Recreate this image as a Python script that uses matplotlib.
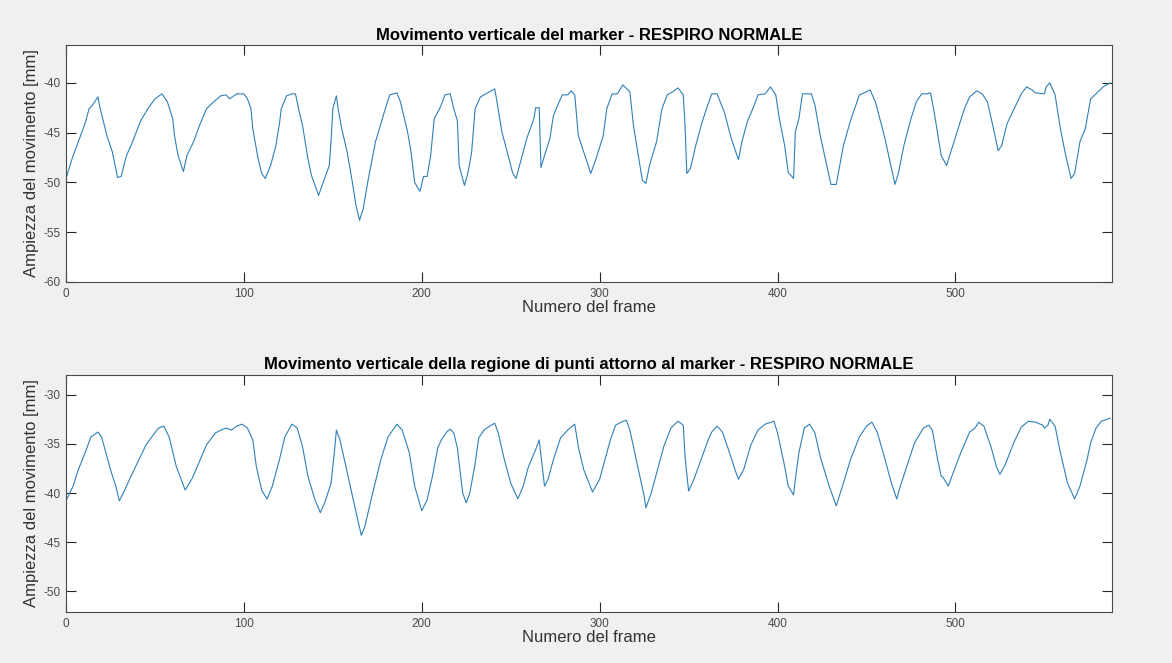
import matplotlib
matplotlib.use("Agg")
import matplotlib.pyplot as plt

plt.rcParams["font.family"] = ["Liberation Sans", "DejaVu Sans"]
plt.rcParams["axes.unicode_minus"] = False

# marker - frames and vertical position [mm]
frame_marker = [0, 4, 8, 11, 13, 15, 18, 19, 23, 26, 28, 29, 31, 34, 37, 42, 46, 50, 54, 57,
                60, 61, 63, 66, 68, 72, 75, 79, 83, 87, 90, 92, 96, 100, 102, 104, 105, 108, 110, 112,
                115, 118, 120, 121, 124, 127, 129, 131, 133, 136, 138, 142, 145, 148, 149, 150, 152, 153, 155, 158,
                161, 163, 165, 167, 170, 174, 179, 182, 186, 188, 192, 194, 196, 199, 201, 203, 205, 207, 210, 211,
                213, 216, 218, 220, 221, 224, 226, 228, 230, 233, 236, 239, 241, 242, 245, 249, 251, 253, 256, 259,
                263, 264, 266, 267, 269, 272, 274, 276, 279, 282, 284, 286, 288, 291, 293, 295, 298, 302, 304, 307,
                310, 313, 317, 319, 322, 324, 326, 328, 332, 335, 338, 341, 344, 347, 348, 349, 351, 354, 357, 360,
                363, 366, 370, 374, 378, 380, 383, 387, 389, 393, 396, 399, 401, 404, 406, 409, 410, 412, 414, 419,
                421, 424, 428, 430, 433, 437, 441, 446, 450, 452, 455, 460, 464, 466, 468, 471, 475, 478, 481, 484,
                486, 488, 492, 495, 498, 502, 505, 508, 512, 515, 518, 521, 524, 526, 529, 533, 537, 540, 543, 545,
                550, 551, 553, 556, 559, 562, 565, 567, 570, 573, 576, 579, 583, 587]
pos_marker = [-49.6, -47.3, -45.4, -43.9, -42.6, -42.2, -41.4, -42.4, -45.3, -46.9, -48.6, -49.5, -49.4, -47.3, -46.1, -43.8, -42.6, -41.6, -41.1, -41.9,
              -43.6, -45.3, -47.3, -48.9, -47.3, -45.8, -44.3, -42.6, -41.9, -41.3, -41.2, -41.6, -41.1, -41.1, -41.6, -42.6, -44.6, -47.6, -49.1, -49.6,
              -48.3, -46.3, -44.1, -42.6, -41.3, -41.1, -41.1, -42.8, -44.3, -47.6, -49.3, -51.3, -49.8, -48.3, -45.9, -42.6, -41.3, -42.6, -44.6, -46.9,
              -50.0, -52.3, -53.8, -52.7, -49.6, -45.9, -42.9, -41.2, -41.0, -41.9, -44.9, -47.0, -50.0, -50.9, -49.4, -49.4, -47.3, -43.6, -42.6, -42.2,
              -41.2, -41.1, -42.6, -43.8, -48.3, -50.3, -49.0, -47.0, -42.6, -41.4, -41.1, -40.8, -40.6, -41.6, -44.9, -47.6, -49.0, -49.6, -47.6, -45.6,
              -43.6, -42.5, -42.5, -48.5, -47.3, -45.6, -43.3, -42.4, -41.2, -41.2, -40.8, -41.2, -45.3, -46.9, -48.0, -49.1, -47.6, -45.3, -42.6, -41.1,
              -41.1, -40.2, -40.9, -44.3, -47.6, -49.8, -50.1, -48.3, -45.9, -42.6, -41.2, -40.9, -40.5, -41.2, -44.3, -49.1, -48.6, -46.3, -44.3, -42.6,
              -41.1, -41.1, -42.9, -45.6, -47.7, -45.9, -43.9, -42.2, -41.2, -41.1, -40.4, -41.2, -43.6, -46.3, -49.0, -49.6, -44.9, -43.6, -41.1, -41.1,
              -42.2, -45.3, -48.6, -50.2, -50.2, -46.3, -43.8, -41.2, -40.9, -40.7, -41.9, -45.3, -48.6, -50.2, -49.0, -46.3, -43.6, -41.9, -41.1, -41.1,
              -41.0, -42.9, -47.3, -48.3, -46.6, -44.3, -42.6, -41.4, -40.8, -41.1, -41.9, -44.3, -46.8, -46.3, -44.1, -42.6, -41.1, -40.4, -40.7, -41.0,
              -41.1, -40.4, -40.0, -41.2, -44.6, -47.3, -49.6, -49.1, -45.9, -44.6, -41.6, -41.1, -40.4, -40.0]

# region of points around the marker
frame_region = [0, 4, 7, 11, 14, 18, 20, 25, 28, 30, 33, 36, 41, 45, 49, 52, 55, 58, 62, 67,
                71, 75, 79, 84, 87, 90, 93, 96, 99, 102, 105, 107, 110, 113, 116, 120, 123, 127, 130, 133,
                136, 140, 143, 146, 149, 151, 152, 154, 157, 161, 164, 166, 168, 172, 177, 181, 186, 189, 193, 196,
                200, 203, 206, 209, 211, 214, 216, 218, 220, 223, 225, 227, 230, 232, 235, 239, 241, 243, 246, 250,
                254, 257, 260, 264, 266, 269, 271, 274, 278, 282, 286, 288, 291, 296, 300, 303, 306, 309, 312, 315,
                317, 321, 325, 326, 329, 332, 336, 340, 344, 347, 348, 350, 353, 357, 361, 363, 366, 369, 373, 376,
                378, 381, 385, 389, 393, 398, 400, 404, 406, 409, 410, 412, 415, 418, 421, 424, 429, 433, 437, 441,
                446, 450, 453, 456, 460, 464, 467, 469, 473, 477, 482, 485, 487, 490, 492, 493, 496, 498, 503, 508,
                511, 513, 516, 520, 523, 525, 528, 533, 537, 541, 545, 549, 550, 552, 553, 556, 559, 563, 567, 570,
                574, 576, 579, 582, 587]
pos_region = [-40.8, -39.3, -37.6, -35.8, -34.3, -33.8, -34.3, -37.6, -39.3, -40.8, -39.7, -38.5, -36.6, -35.1, -34.1, -33.4, -33.2, -34.3, -37.3, -39.7,
              -38.5, -36.8, -35.1, -33.9, -33.6, -33.4, -33.6, -33.2, -33.0, -33.4, -34.6, -37.3, -39.7, -40.6, -39.3, -36.6, -34.3, -33.0, -33.4, -35.3,
              -38.3, -40.7, -42.0, -40.7, -39.0, -35.6, -33.6, -34.6, -37.0, -40.3, -42.7, -44.3, -43.4, -40.3, -36.6, -34.3, -33.0, -33.6, -35.9, -39.3,
              -41.8, -40.7, -38.3, -35.4, -34.6, -33.8, -33.5, -33.9, -35.4, -40.0, -41.0, -40.0, -37.0, -34.4, -33.6, -33.1, -32.9, -33.9, -36.3, -39.0,
              -40.6, -39.3, -37.3, -35.6, -34.6, -39.3, -38.6, -36.6, -34.4, -33.6, -33.0, -35.3, -37.6, -39.9, -38.6, -36.6, -34.6, -33.1, -32.8, -32.6,
              -33.6, -37.0, -40.3, -41.5, -40.0, -38.0, -35.3, -33.4, -32.7, -33.1, -36.3, -39.8, -38.6, -36.6, -34.6, -33.8, -33.2, -33.8, -35.9, -37.6,
              -38.6, -37.6, -35.1, -33.6, -33.0, -32.7, -33.9, -37.3, -39.3, -40.2, -38.6, -35.9, -33.4, -33.0, -33.9, -36.3, -39.3, -41.3, -39.0, -36.6,
              -34.3, -33.2, -32.8, -33.8, -36.3, -39.0, -40.6, -39.3, -37.1, -34.9, -33.4, -33.1, -33.6, -36.6, -38.3, -38.4, -39.3, -38.3, -35.9, -33.8,
              -33.4, -32.8, -33.2, -35.3, -37.3, -38.1, -37.1, -34.8, -33.3, -32.7, -32.8, -33.1, -33.4, -33.1, -32.5, -33.2, -35.9, -39.0, -40.6, -39.3,
              -36.6, -34.9, -33.4, -32.7, -32.4]

titles = ["Movimento verticale del marker - RESPIRO NORMALE",
          "Movimento verticale della regione di punti attorno al marker - RESPIRO NORMALE"]
yticks_top = [-60, -55, -50, -45, -40]
yticks_bottom = [-50, -45, -40, -35, -30]
xticks = [0, 100, 200, 300, 400, 500]

fig = plt.figure(figsize=(11.72, 6.63), dpi=100, facecolor="#f0f0f0")
ax1 = fig.add_axes([0.0563, 0.5747, 0.8925, 0.3573])
ax2 = fig.add_axes([0.0563, 0.0769, 0.8925, 0.3575])

panels = [
    (ax1, frame_marker, pos_marker, (-60, -36.2), yticks_top, titles[0]),
    (ax2, frame_region, pos_region, (-52.1, -28.0), yticks_bottom, titles[1]),
]

for ax, fx, fy, ylim, yt, title in panels:
    ax.plot(fx, fy, color="#2f80b8", linewidth=0.8)
    ax.set_xlim(0, 588)
    ax.set_ylim(*ylim)
    ax.set_xticks(xticks)
    ax.set_yticks(yt)
    ax.tick_params(direction="in", length=7, width=0.8, top=True, right=True,
                   labelsize=8.5, colors="#262626", labelcolor="#4a4a4a", pad=4)
    for s in ax.spines.values():
        s.set_color("#4a4a4a")
        s.set_linewidth(0.8)
    ax.set_title(title, fontsize=12, fontweight="bold", pad=4)
    ax.set_xlabel("Numero del frame", fontsize=12, color="#333333", labelpad=0)
    ax.set_ylabel("Ampiezza del movimento [mm]", fontsize=12, color="#333333", labelpad=3)

fig.savefig("out.png", dpi=100, facecolor=fig.get_facecolor())
